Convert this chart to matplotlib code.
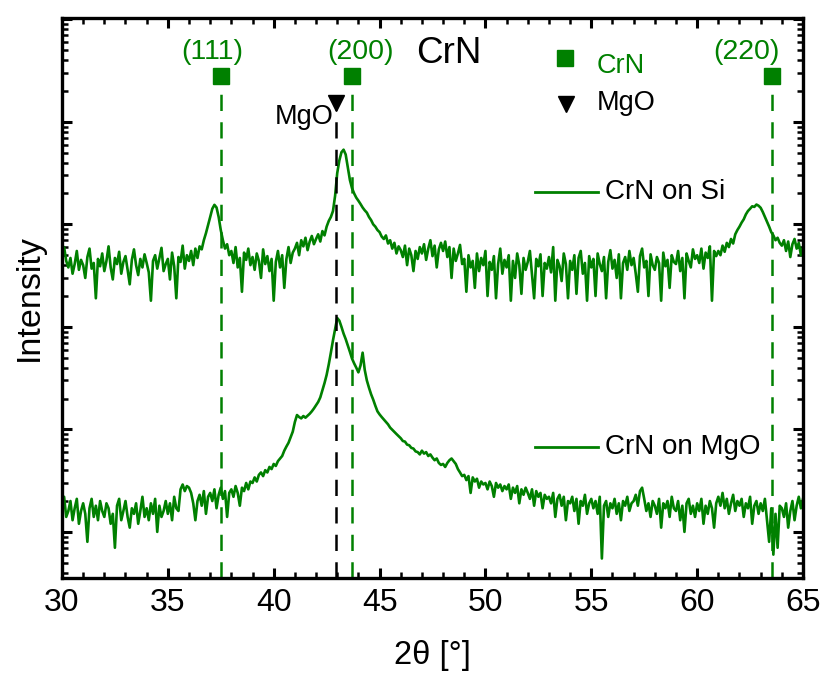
import numpy as np
import matplotlib
matplotlib.use('Agg')
import matplotlib.pyplot as plt
from matplotlib.ticker import MultipleLocator, LogLocator, NullFormatter

plt.rcParams['font.family'] = ['Liberation Sans', 'DejaVu Sans']

# 2theta grid of the scans (0.1 deg steps, 30..65)
two_theta = np.round(np.arange(300, 651) * 0.1, 1)

# CrN on Si, counts (one row per degree)
crn_si = [
    52, 60, 44, 38, 47, 33, 41, 55, 36, 45,
    40, 30, 48, 58, 37, 42, 19, 46, 39, 52,
    35, 44, 61, 38, 29, 47, 41, 54, 33, 43,
    49, 36, 26, 45, 57, 40, 32, 46, 38, 51,
    42, 34, 18, 44, 50, 37, 47, 59, 35, 41,
    46, 29, 53, 39, 19, 48, 43, 62, 37, 50,
    44, 55, 40, 58, 47, 61, 57, 70, 82, 98,
    118, 142, 155, 146, 118, 88, 70, 58, 64, 50,
    55, 42, 60, 38, 47, 22, 53, 45, 58, 40,
    48, 36, 52, 44, 30, 57, 41, 49, 35, 46,
    18, 43, 55, 38, 50, 24, 46, 60, 42, 53,
    58, 66, 50, 70, 61, 74, 56, 68, 77, 64,
    72, 80, 68, 86, 78, 95, 108, 118, 135, 190,
    316, 420, 505, 535, 480, 360, 270, 225, 200, 182,
    170, 158, 146, 137, 130, 118, 110, 100, 95, 88,
    84, 76, 72, 78, 65, 70, 58, 66, 52, 61,
    56, 48, 62, 40, 58, 50, 35, 55, 46, 60,
    52, 64, 45, 58, 70, 49, 62, 38, 57, 66,
    55, 68, 48, 60, 30, 58, 44, 52, 63, 41,
    46, 22, 50, 38, 44, 24, 52, 35, 47, 40,
    55, 20, 43, 36, 49, 19, 41, 58, 33, 45,
    38, 50, 18, 44, 30, 52, 40, 21, 47, 36,
    43, 55, 32, 19, 46, 39, 51, 20, 42, 37,
    48, 34, 60, 18, 45, 39, 28, 52, 41, 19,
    44, 36, 50, 21, 47, 55, 33, 42, 18, 49,
    38, 46, 20, 52, 41, 35, 48, 19, 43, 56,
    37, 45, 30, 51, 19, 42, 48, 36, 55, 40,
    47, 33, 22, 49, 58, 38, 44, 20, 51, 40,
    36, 48, 42, 18, 53, 39, 45, 24, 50, 43,
    41, 55, 35, 47, 19, 52, 44, 38, 57, 46,
    50, 42, 58, 37, 53, 47, 61, 18, 55, 49,
    55, 50, 62, 54, 66, 60, 72, 65, 80, 88,
    95, 104, 112, 125, 135, 142, 150, 148, 156, 152,
    145, 132, 118, 106, 95, 84, 78, 70, 74, 66,
    62, 70, 55, 68, 48, 64, 72, 58, 66, 50,
    60,
]

# CrN on MgO, counts
crn_mgo = [
    18, 22, 14, 16, 20, 13, 17, 21, 12, 16,
    19, 15, 8, 17, 21, 14, 18, 13, 20, 16,
    14, 19, 17, 12, 15, 7, 18, 21, 13, 16,
    20, 14, 11, 17, 15, 19, 12, 16, 22, 14,
    17, 13, 19, 15, 21, 10, 18, 14, 16, 20,
    15, 19, 13, 22, 17, 16, 26, 29, 25, 28,
    27, 24, 19, 13, 20, 23, 18, 25, 15, 22,
    24, 20, 26, 17, 23, 27, 21, 25, 14, 24,
    26, 22, 28, 24, 18, 27, 25, 30, 26, 31,
    30, 34, 31, 36, 38, 35, 40, 38, 43, 41,
    46, 44, 49, 52, 55, 62, 68, 74, 84, 95,
    118, 138, 132, 128, 135, 130, 136, 142, 150, 160,
    172, 185, 205, 240, 283, 340, 430, 560, 740, 950,
    1220, 1150, 1000, 860, 760, 660, 570, 490, 440, 400,
    360, 420, 560, 380, 300, 255, 220, 195, 170, 150,
    140, 132, 125, 118, 112, 104, 99, 94, 90, 86,
    82, 77, 76, 71, 70, 66, 65, 61, 60, 57,
    62, 58, 60, 55, 57, 53, 50, 52, 47, 45,
    46, 43, 47, 50, 52, 49, 46, 41, 38, 35,
    36, 32, 35, 24, 34, 31, 33, 27, 31, 29,
    30, 26, 31, 28, 22, 30, 27, 29, 25, 28,
    26, 29, 21, 27, 24, 28, 19, 26, 23, 27,
    24, 21, 26, 18, 25, 22, 24, 17, 23, 21,
    22, 19, 24, 14, 21, 23, 18, 22, 13, 20,
    19, 22, 16, 21, 12, 20, 18, 23, 15, 19,
    21, 17, 20, 15, 22, 5.5, 18, 20, 14, 19,
    17, 21, 15, 19, 13, 20, 18, 22, 16, 19,
    20, 23, 18, 25, 27, 21, 16, 19, 14, 20,
    18, 15, 21, 11, 19, 17, 20, 14, 22, 17,
    16, 20, 13, 18, 10, 19, 21, 15, 18, 14,
    19, 16, 21, 12, 18, 15, 20, 17, 11, 19,
    22, 18, 24, 17, 21, 15, 19, 23, 16, 20,
    18, 21, 14, 19, 17, 22, 12, 18, 20, 15,
    19, 16, 21, 13, 8, 17, 6, 15, 7, 18,
    17, 14, 19, 11, 16, 20, 13, 18, 22, 17,
    21,
]

# reference reflections
crn_hkl = ['(111)', '(200)', '(220)']
crn_pos = [37.52, 43.71, 63.54]
mgo_pos = 42.94

si_offset = 100.0   # vertical shift of the Si scan on the log axis
green = '#008000'

fig = plt.figure(figsize=(8.22, 6.77), dpi=100)
ax = fig.add_axes([0.0754, 0.1462, 0.9015, 0.8272])

ax.plot(two_theta, np.array(crn_si) * si_offset, color=green, lw=1.9)
ax.plot(two_theta, crn_mgo, color=green, lw=1.9)

ax.set_yscale('log')
ax.set_xlim(30, 65)
ax.set_ylim(3.548, 1.03e6)

trans = ax.get_xaxis_transform()
dash = (0, (6.5, 4.5))
for p in crn_pos:
    ax.plot([p, p], [0, 0.88], transform=trans, color=green, lw=1.8, linestyle=dash)
    ax.plot(p, 0.897, 's', transform=trans, color=green, ms=12, clip_on=False)
ax.plot([mgo_pos, mgo_pos], [0, 0.835], transform=trans, color='black', lw=1.8, linestyle=dash)
ax.plot(mgo_pos, 0.848, 'v', transform=trans, color='black', ms=12)

label_x = [37.09, 44.12, 62.31]
for lab, lx in zip(crn_hkl, label_x):
    ax.text(lx, 0.939, lab, transform=trans, color=green, fontsize=20.5, ha='center', va='center')
ax.text(mgo_pos - 0.1, 0.823, 'MgO', transform=trans, fontsize=19.5, ha='right', va='center')

ax.text(0.522, 0.9375, 'CrN', transform=ax.transAxes, fontsize=26.5, ha='center', va='center')
ax.plot(0.679, 0.928, 's', transform=ax.transAxes, color=green, ms=12)
ax.text(0.722, 0.914, 'CrN', transform=ax.transAxes, color=green, fontsize=19.5, va='center')
ax.plot(0.680, 0.846, 'v', transform=ax.transAxes, color='black', ms=12)
ax.text(0.722, 0.848, 'MgO', transform=ax.transAxes, fontsize=19.5, va='center')

for yy, lab in [(0.689, 'CrN on Si'), (0.234, 'CrN on MgO')]:
    ax.plot([0.638, 0.723], [yy, yy], transform=ax.transAxes, color=green, lw=2)
    ax.text(0.733, yy, lab, transform=ax.transAxes, fontsize=20, va='center')

ax.xaxis.set_major_locator(MultipleLocator(5))
ax.xaxis.set_minor_locator(MultipleLocator(1))
ax.yaxis.set_major_locator(LogLocator(base=10))
ax.yaxis.set_minor_locator(LogLocator(base=10, subs=np.arange(2, 10)))
ax.yaxis.set_major_formatter(NullFormatter())
ax.yaxis.set_minor_formatter(NullFormatter())

ax.tick_params(which='both', direction='in', top=True, right=True)
ax.tick_params(which='major', length=7.5, width=2.2, labelsize=23, pad=7)
ax.tick_params(which='minor', length=4, width=1.8)
for sp in ax.spines.values():
    sp.set_linewidth(2.4)

ax.set_xlabel('2θ [°]', fontsize=23.5, labelpad=16)
ax.set_ylabel('Intensity', fontsize=24.5, labelpad=5)

fig.savefig('out.png', dpi=100)
